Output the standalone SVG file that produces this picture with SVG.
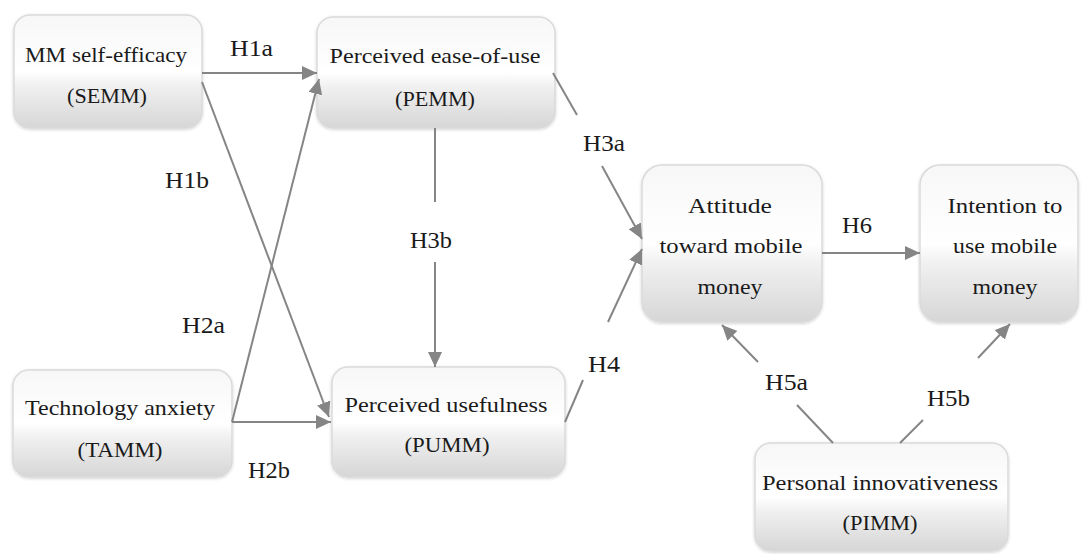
<svg xmlns="http://www.w3.org/2000/svg" width="1083" height="554" viewBox="0 0 1083 554">
<defs>
<linearGradient id="g" x1="0" y1="0" x2="0" y2="1">
<stop offset="0" stop-color="#f7f7f7"/>
<stop offset="0.5" stop-color="#ffffff"/>
<stop offset="0.62" stop-color="#f1f1f1"/>
<stop offset="1" stop-color="#d6d6d6"/>
</linearGradient>
<filter id="sh" x="-10%" y="-10%" width="120%" height="120%">
<feDropShadow dx="0" dy="1" stdDeviation="1.5" flood-color="#000" flood-opacity="0.18"/>
</filter>
<marker id="ah" markerUnits="userSpaceOnUse" markerWidth="16" markerHeight="14" refX="15" refY="7" orient="auto">
<path d="M0,0 L15,7 L0,14 z" fill="#858585"/>
</marker>
<style>
.box{fill:url(#g);stroke:#dadada;stroke-width:1.5;filter:url(#sh)}
text{font-family:'Liberation Serif','DejaVu Serif',serif;fill:#1a1a1a}
.t{font-size:22px;text-anchor:middle}
.h{font-size:23px}
.c{stroke:#858585;stroke-width:2;fill:none}
.a{marker-end:url(#ah)}
</style>
</defs>
<rect width="1083" height="554" fill="#ffffff"/>

<g id="SEMM">
<rect class="box" x="14" y="15" width="188" height="113" rx="16"/>
<text class="t" x="106" y="62" textLength="162" lengthAdjust="spacingAndGlyphs">MM self-efficacy</text>
<text class="t" x="107" y="103" textLength="80" lengthAdjust="spacingAndGlyphs">(SEMM)</text>
</g>
<g id="PEMM">
<rect class="box" x="317" y="17" width="238" height="111" rx="16"/>
<text class="t" x="435" y="63" textLength="211" lengthAdjust="spacingAndGlyphs">Perceived ease-of-use</text>
<text class="t" x="435" y="106" textLength="80" lengthAdjust="spacingAndGlyphs">(PEMM)</text>
</g>
<g id="TAMM">
<rect class="box" x="13" y="370" width="219" height="107" rx="16"/>
<text class="t" x="120" y="415" textLength="190" lengthAdjust="spacingAndGlyphs">Technology anxiety</text>
<text class="t" x="120" y="457" textLength="85" lengthAdjust="spacingAndGlyphs">(TAMM)</text>
</g>
<g id="PUMM">
<rect class="box" x="332" y="367" width="233" height="110" rx="16"/>
<text class="t" x="446" y="412" textLength="203" lengthAdjust="spacingAndGlyphs">Perceived usefulness</text>
<text class="t" x="447" y="452" textLength="85" lengthAdjust="spacingAndGlyphs">(PUMM)</text>
</g>
<g id="ATT">
<rect class="box" x="642" y="165" width="180" height="157" rx="20"/>
<text class="t" x="730" y="213" textLength="84" lengthAdjust="spacingAndGlyphs">Attitude</text>
<text class="t" x="731" y="253" textLength="143" lengthAdjust="spacingAndGlyphs">toward mobile</text>
<text class="t" x="730" y="294" textLength="65" lengthAdjust="spacingAndGlyphs">money</text>
</g>
<g id="INT">
<rect class="box" x="920" y="165" width="158" height="157" rx="20"/>
<text class="t" x="1005" y="213" textLength="115" lengthAdjust="spacingAndGlyphs">Intention to</text>
<text class="t" x="1005" y="253" textLength="104" lengthAdjust="spacingAndGlyphs">use mobile</text>
<text class="t" x="1005" y="294" textLength="65" lengthAdjust="spacingAndGlyphs">money</text>
</g>
<g id="PIMM">
<rect class="box" x="755" y="443" width="253" height="108" rx="16"/>
<text class="t" x="880" y="490" textLength="236" lengthAdjust="spacingAndGlyphs">Personal innovativeness</text>
<text class="t" x="880" y="530" textLength="75" lengthAdjust="spacingAndGlyphs">(PIMM)</text>
</g>

<g id="connectors">
<line class="c a" x1="202" y1="73" x2="317" y2="73"/>
<line class="c a" x1="202" y1="82" x2="329" y2="417"/>
<line class="c a" x1="232" y1="422" x2="319" y2="79"/>
<line class="c a" x1="232" y1="422" x2="331" y2="422"/>
<line class="c" x1="553" y1="73" x2="577" y2="115"/>
<line class="c a" x1="602" y1="166" x2="642" y2="239"/>
<line class="c" x1="435" y1="128" x2="435" y2="202"/>
<line class="c a" x1="435" y1="262" x2="435" y2="367"/>
<line class="c" x1="565" y1="422" x2="583" y2="380"/>
<line class="c a" x1="608" y1="322" x2="642" y2="249"/>
<line class="c a" x1="822" y1="253" x2="920" y2="253"/>
<line class="c" x1="833" y1="443" x2="797" y2="405"/>
<line class="c a" x1="758" y1="362" x2="722" y2="325"/>
<line class="c" x1="900" y1="443" x2="923" y2="420"/>
<line class="c a" x1="978" y1="358" x2="1010" y2="324"/>
</g>

<g id="labels">
<text class="h" x="230" y="56" textLength="43" lengthAdjust="spacingAndGlyphs">H1a</text>
<text class="h" x="165" y="188" textLength="44" lengthAdjust="spacingAndGlyphs">H1b</text>
<text class="h" x="182" y="333" textLength="43" lengthAdjust="spacingAndGlyphs">H2a</text>
<text class="h" x="248" y="478" textLength="42" lengthAdjust="spacingAndGlyphs">H2b</text>
<text class="h" x="583" y="151" textLength="42" lengthAdjust="spacingAndGlyphs">H3a</text>
<text class="h" x="410" y="248" textLength="42" lengthAdjust="spacingAndGlyphs">H3b</text>
<text class="h" x="588" y="372" textLength="32" lengthAdjust="spacingAndGlyphs">H4</text>
<text class="h" x="842" y="233" textLength="30" lengthAdjust="spacingAndGlyphs">H6</text>
<text class="h" x="765" y="390" textLength="43" lengthAdjust="spacingAndGlyphs">H5a</text>
<text class="h" x="927" y="406" textLength="43" lengthAdjust="spacingAndGlyphs">H5b</text>
</g>
</svg>
